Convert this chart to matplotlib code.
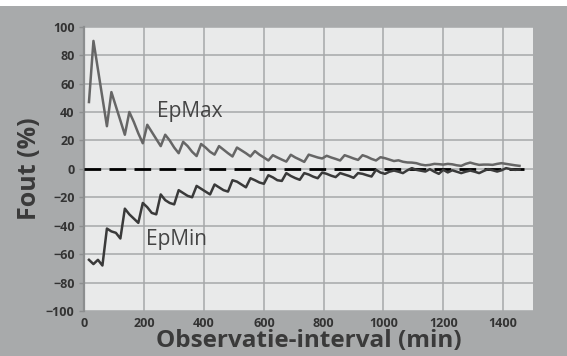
import numpy as np
import matplotlib
matplotlib.use("Agg")
import matplotlib.pyplot as plt
from matplotlib.patches import Rectangle

plt.rcParams['font.family'] = ['Open Sans', 'DejaVu Sans']

# observatie-interval (min), elke 15 minuten
interval = np.arange(15, 1470, 15)

ep_max = [47, 90, 70, 50,
          30, 54, 44, 34,
          24, 40, 33, 25,
          18, 31, 26, 21,
          16, 24, 20, 15,
          11, 19, 16, 12,
          9, 17.5, 15, 12,
          10, 16, 13.5, 11,
          8.7, 15, 13, 11,
          8.7, 12.5, 10, 8,
          5.9, 9.6, 8, 6.5,
          5.1, 9.9, 8, 6.5,
          4.9, 10, 9, 8,
          7.3, 9.2, 8, 7,
          5.9, 9.6, 8.5, 7.3,
          6.3, 9.6, 8.5, 7,
          5.9, 8.2, 7.5, 6.5,
          5.5, 6, 5, 4.5,
          4.4, 4, 3, 2.5,
          2.8, 3.5, 3.3, 3,
          3.5, 3.2, 2.5, 2.1,
          3.5, 4.4, 3.5, 2.8,
          3, 3, 2.8, 3.5,
          4, 3.5, 3, 2.5,
          2.1]

ep_min = [-64, -67, -64, -68,
          -42, -44, -45, -49,
          -28, -32, -35, -38,
          -24, -27, -31, -32,
          -18, -22, -24, -25,
          -15, -17, -19, -20,
          -12, -14, -16, -18,
          -11, -13, -15, -16,
          -8, -9, -11, -13,
          -6.6, -8, -9.6, -10.5,
          -4.5, -6, -8, -8.5,
          -3, -5, -6.5, -7.7,
          -3, -4, -5.5, -6.6,
          -2.6, -3.5, -4.8, -5.8,
          -3, -4, -5, -6.3,
          -3, -3.5, -4.5, -5.4,
          -0.7, -2.6, -3.5, -2,
          -1.2, -2, -3, -1,
          0.5, -0.7, -1.3, -1.9,
          -0.2, -2, -3.5, -0.7,
          -2.5, -1, -2, -3,
          -2, -1.2, -2, -3,
          -1.5, -0.2, -1, -1.9,
          -1, 0.5, -0.2, -0.7,
          -0.5]

nul_x = [0, 1470]
nul_y = [0, 0]

x_ticks = [0, 200, 400, 600, 800, 1000, 1200, 1400]
y_ticks = [-100, -80, -60, -40, -20, 0, 20, 40, 60, 80, 100]

bg = '#a8aaab'
fig = plt.figure(figsize=(5.67, 3.56), dpi=100, facecolor=bg)
# witte strook bovenaan
fig.patches.append(Rectangle((0, 0.983), 1, 0.017, transform=fig.transFigure,
                             facecolor='white', edgecolor='none', zorder=0))

ax = fig.add_axes([0.149, 0.1264, 0.791, 0.7986])
ax.set_facecolor('#e9eaea')

ax.plot(nul_x, nul_y, color='black', lw=2.0, linestyle=(0, (6, 3)), zorder=3)
ax.plot(interval, ep_max, color='#666666', lw=1.8, zorder=4)
ax.plot(interval, ep_min, color='#3a3a3a', lw=1.8, zorder=4)

ax.text(242, 40, 'EpMax', fontsize=15, color='#444444', ha='left', va='center')
ax.text(206, -50, 'EpMin', fontsize=15, color='#444444', ha='left', va='center')

ax.set_xlim(0, 1500)
ax.set_ylim(-100, 100)
ax.set_xticks(x_ticks)
ax.set_yticks(y_ticks)
ax.grid(True, color='#a6a8a9', lw=1.1)
ax.set_axisbelow(True)

for s in ['top', 'right', 'bottom']:
    ax.spines[s].set_visible(False)
ax.spines['left'].set_color('#8c8e8f')
ax.spines['left'].set_linewidth(1.6)

ax.tick_params(axis='y', length=3.6, width=1, color='#8c8e8f', pad=3.5,
               labelsize=9, labelcolor='#333333')
ax.tick_params(axis='x', length=0, pad=4.5, labelsize=9, labelcolor='#333333')
for lab in ax.get_xticklabels() + ax.get_yticklabels():
    lab.set_fontweight('bold')

ax.set_xlabel('Observatie-interval (min)', fontsize=17.5, fontweight='bold',
              color='#3a3a3a', labelpad=-1)
ax.set_ylabel('Fout (%)', fontsize=18, fontweight='bold', color='#3a3a3a',
              labelpad=3)

plt.savefig('out.png', dpi=100, facecolor=bg)
